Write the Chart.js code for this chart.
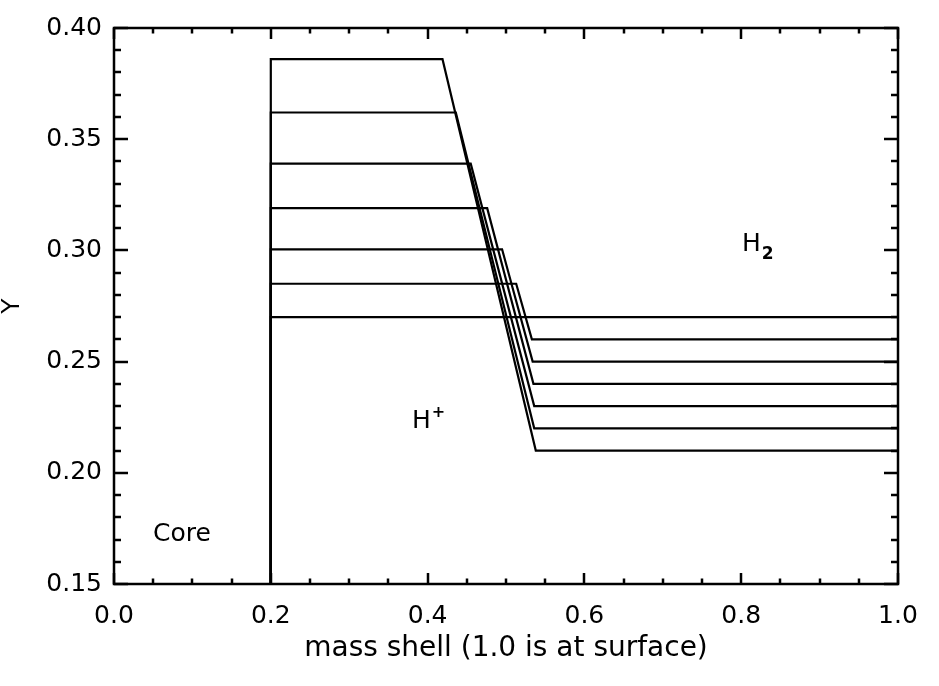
<!DOCTYPE html>
<html>
<head>
<meta charset="utf-8">
<script src="https://cdn.jsdelivr.net/npm/chart.js@4.4.1/dist/chart.umd.min.js"></script>
<style>
  html, body { margin: 0; padding: 0; background: #ffffff; }
  #c { display: block; }
</style>
</head>
<body>
<canvas id="c" width="939" height="686"></canvas>
<script>
// ---- data ----
const coreEdge   = 0.2;                                             // x of core boundary
const innerY     = [0.386, 0.362, 0.339, 0.319, 0.3005, 0.285, 0.270]; // Y in H+ region
const rampStart  = [0.419, 0.436, 0.455, 0.476, 0.495, 0.513, 0.533]; // x where drop begins
const rampEnd    = [0.538, 0.536, 0.536, 0.535, 0.534, 0.533, 0.533]; // x where drop ends
const outerY     = [0.210, 0.220, 0.230, 0.240, 0.250, 0.260, 0.270]; // Y in H2 region
const surfaceX   = 1.0;
const xTickLabels = ['0.0', '0.2', '0.4', '0.6', '0.8', '1.0'];
const yTickLabels = ['0.15', '0.20', '0.25', '0.30', '0.35', '0.40'];
const regionNames = ['Core', 'H', 'H'];
const regionMarks = ['', '+', '2'];

const Y_MIN = 0.15, Y_MAX = 0.40;

const datasets = innerY.map((yi, i) => ({
  label: 'profile ' + (i + 1),
  data: [
    { x: coreEdge, y: Y_MIN },
    { x: coreEdge, y: yi },
    { x: rampStart[i], y: yi },
    { x: rampEnd[i], y: outerY[i] },
    { x: surfaceX, y: outerY[i] }
  ],
  borderColor: '#000000',
  borderWidth: 2.2,
  pointRadius: 0,
  tension: 0,
  fill: false
}));

// label anchors (data coords of baseline-left) and styling
const regionLabels = [
  { text: regionNames[0], mark: regionMarks[0], x: 0.0497, y: 0.1693, kind: 'none' },
  { text: regionNames[1], mark: regionMarks[1], x: 0.380,  y: 0.2201, kind: 'sup' },
  { text: regionNames[2], mark: regionMarks[2], x: 0.801,  y: 0.2997, kind: 'sub' }
];

const FONT = "'DejaVu Sans', 'Liberation Sans', sans-serif";

const frameAndTicks = {
  id: 'frameAndTicks',
  afterDatasetsDraw(chart) {
    const { ctx, chartArea: a, scales } = chart;
    ctx.save();
    ctx.strokeStyle = '#000';
    ctx.lineWidth = 2.5;
    ctx.lineCap = 'square';
    ctx.strokeRect(a.left, a.top, a.right - a.left, a.bottom - a.top);
    ctx.beginPath();
    ctx.lineCap = 'butt';
    scales.x.ticks.forEach(t => {
      const px = Math.round(scales.x.getPixelForValue(t.value));
      const major = Math.round(t.value * 100) % 20 === 0;
      const len = major ? 11 : 5.5;
      ctx.moveTo(px, a.bottom); ctx.lineTo(px, a.bottom - len);
      ctx.moveTo(px, a.top);    ctx.lineTo(px, a.top + len);
    });
    scales.y.ticks.forEach(t => {
      const py = Math.round(scales.y.getPixelForValue(t.value));
      const major = Math.round(t.value * 100) % 5 === 0;
      const len = major ? 14 : 7;
      ctx.moveTo(a.left, py);  ctx.lineTo(a.left + len, py);
      ctx.moveTo(a.right, py); ctx.lineTo(a.right - len, py);
    });
    ctx.stroke();

    // region labels
    ctx.fillStyle = '#000';
    ctx.textAlign = 'left';
    ctx.textBaseline = 'alphabetic';
    regionLabels.forEach(l => {
      const px = scales.x.getPixelForValue(l.x);
      const py = scales.y.getPixelForValue(l.y);
      ctx.font = '25px ' + FONT;
      ctx.fillText(l.text, px, py);
      const w = ctx.measureText(l.text).width;
      if (l.kind === 'sup') {
        ctx.font = 'bold 16px ' + FONT;
        ctx.fillText(l.mark, px + w + 1, py - 11);
      } else if (l.kind === 'sub') {
        ctx.font = 'bold 17px ' + FONT;
        ctx.fillText(l.mark, px + w + 1, py + 8);
      }
    });
    ctx.restore();
  }
};

new Chart(document.getElementById('c'), {
  type: 'line',
  data: { datasets },
  options: {
    responsive: false,
    animation: false,
    devicePixelRatio: 1,
    layout: { padding: { left: 0, top: 28, right: 41, bottom: 0 } },
    plugins: { legend: { display: false }, tooltip: { enabled: false } },
    scales: {
      x: {
        type: 'linear',
        position: 'bottom',
        min: 0, max: 1,
        grid: { display: false, drawTicks: false },
        border: { display: false },
        ticks: {
          stepSize: 0.05,
          autoSkip: false,
          maxRotation: 0,
          padding: 17,
          color: '#000',
          font: { family: FONT, size: 25 },
          callback: v => {
            const k = Math.round(v * 100);
            return k % 20 === 0 ? xTickLabels[k / 20] : '';
          }
        },
        title: {
          display: true,
          text: 'mass shell (1.0 is at surface)',
          color: '#000',
          font: { family: FONT, size: 28 },
          padding: { top: 0, bottom: 20 }
        },
        afterFit: s => { s.height = 102; }
      },
      y: {
        type: 'linear',
        min: Y_MIN, max: Y_MAX,
        grid: { display: false, drawTicks: false },
        border: { display: false },
        ticks: {
          stepSize: 0.01,
          autoSkip: false,
          padding: 12,
          color: '#000',
          font: { family: FONT, size: 25 },
          callback: v => {
            const k = Math.round(v * 100);
            return k % 5 === 0 ? yTickLabels[(k - 15) / 5] : '';
          }
        },
        title: {
          display: true,
          text: 'Y',
          color: '#000',
          font: { family: FONT, size: 25, lineHeight: 1 },
          padding: 0
        },
        afterFit: s => { s.width = 114; }
      }
    }
  },
  plugins: [frameAndTicks]
});
</script>
</body>
</html>
